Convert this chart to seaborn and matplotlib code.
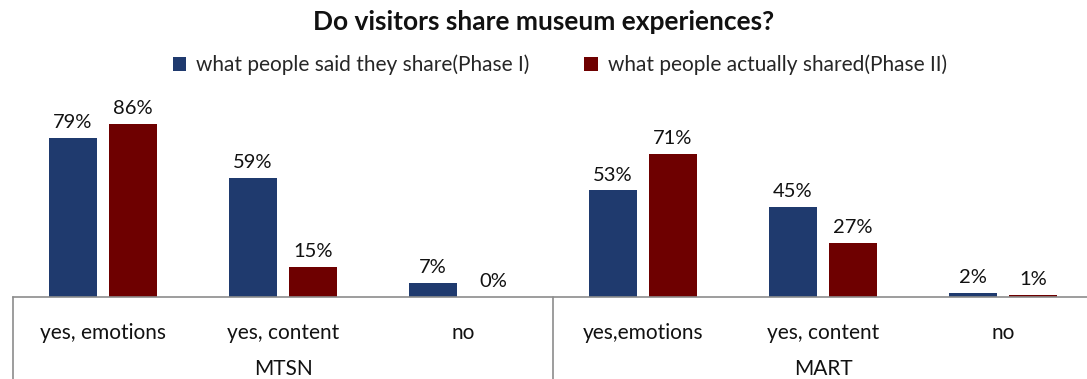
import matplotlib
matplotlib.use("Agg")
import matplotlib.pyplot as plt
import matplotlib.transforms as mtransforms
from matplotlib.patches import Patch
import seaborn as sns
import pandas as pd

# Survey results per museum and sharing category
museums = ["MTSN", "MART"]
categories_mtsn = ["yes, emotions", "yes, content", "no"]
categories_mart = ["yes,emotions", "yes, content", "no"]
said_share = [79, 59, 7, 53, 45, 2]
actually_shared = [86, 15, 0, 71, 27, 1]
series_names = ["what people said they share(Phase I)",
                "what people actually shared(Phase II)"]
colors = ["#1F3A6E", "#6E0000"]

tick_labels = categories_mtsn + categories_mart
keys = [f"{m}|{c}" for m, cats in zip(museums, [categories_mtsn, categories_mart]) for c in cats]

rows = []
for k, v in zip(keys, said_share):
    rows.append({"key": k, "series": series_names[0], "value": v})
for k, v in zip(keys, actually_shared):
    rows.append({"key": k, "series": series_names[1], "value": v})
df = pd.DataFrame(rows)

sns.set_theme(style="white")
plt.rcParams["font.family"] = ["Lato", "DejaVu Sans"]

W, H = 1087, 379
fig = plt.figure(figsize=(W / 100, H / 100), dpi=100)
left, right, top, bottom = 13, 1093, 96, 297
ax = fig.add_axes([left / W, 1 - bottom / H, (right - left) / W, (bottom - top) / H])

sns.barplot(data=df, x="key", y="value", hue="series", order=keys,
            hue_order=series_names, palette=colors, width=0.667, gap=0.2,
            saturation=1, legend=False, linewidth=0, ax=ax)

ax.set_xlim(-0.5, len(keys) - 0.5)
ax.set_ylim(0, 100)
ax.set_xlabel("")
ax.set_ylabel("")
ax.set_yticks([])
ax.set_xticks(range(len(keys)))
ax.set_xticklabels(tick_labels, fontsize=15, color="#111111")
ax.tick_params(axis="x", length=0, pad=19)
for s in ["top", "right", "left"]:
    ax.spines[s].set_visible(False)
ax.spines["bottom"].set_color("#8C8C8C")
ax.spines["bottom"].set_linewidth(1.2)

# Value labels above each bar
for container in ax.containers:
    ax.bar_label(container, labels=[f"{int(b.get_height())}%" for b in container],
                 padding=5, fontsize=14.5, color="#111111")

# Museum group labels and separators below the axis
trans = mtransforms.blended_transform_factory(ax.transData, ax.transAxes)
n_per = len(categories_mtsn)
for i, m in enumerate(museums):
    center = i * n_per + (n_per - 1) / 2
    ax.text(center, -0.36, m, transform=trans, ha="center", va="center",
            fontsize=15, color="#111111")
for b in [-0.5, n_per - 0.5]:
    ax.plot([b, b], [0, -0.42], transform=trans, color="#8C8C8C",
            linewidth=1.2, clip_on=False)

fig.text(0.5, 1 - 22 / H, "Do visitors share museum experiences?",
         ha="center", va="center", fontsize=19, fontweight="bold", color="#111111")

handles = [Patch(facecolor=c, edgecolor="none") for c in colors]
fig.legend(handles, series_names, loc="center", bbox_to_anchor=(0.515, 1 - 65 / H),
           ncol=2, frameon=False, fontsize=15, handlelength=0.65, handleheight=0.65,
           handletextpad=0.5, columnspacing=2.6)

fig.savefig("out.png", dpi=100)
